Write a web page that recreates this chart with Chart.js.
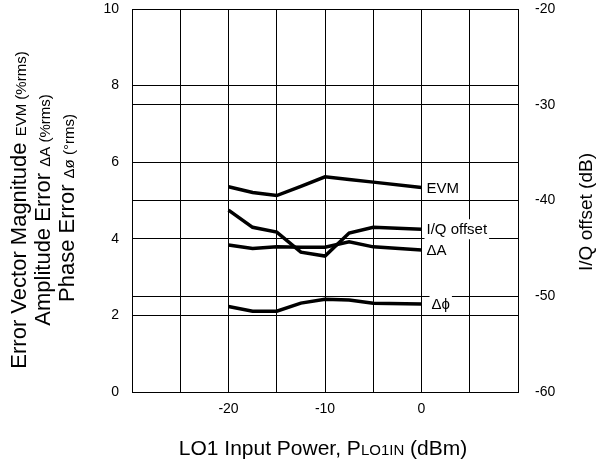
<!DOCTYPE html>
<html>
<head>
<meta charset="utf-8">
<script src="https://cdn.jsdelivr.net/npm/chart.js@4.4.0/dist/chart.umd.min.js"></script>
<style>
html, body { margin: 0; padding: 0; background: #fff; }
</style>
</head>
<body>
<canvas id="chartCanvas" width="600" height="465"></canvas>
<script>
// LO1 input power (dBm)
var loPower = [-20, -17.5, -15, -12.5, -10, -7.5, -5, 0];
// left axis (%rms / deg rms)
var evm = [5.36, 5.21, 5.13, 5.37, 5.62, 5.55, 5.48, 5.34];
var deltaA = [3.84, 3.75, 3.79, 3.78, 3.78, 3.92, 3.79, 3.71];
var deltaPhi = [2.23, 2.11, 2.11, 2.32, 2.42, 2.40, 2.32, 2.30];
// right axis (dB)
var iqOffset = [-41.0, -42.8, -43.3, -45.4, -45.8, -43.4, -42.8, -43.0];

var xLabels = [-20, -10, 0];
var font = "'Liberation Sans', Arial, sans-serif";

function pts(arr) {
    return loPower.map(function (x, i) { return { x: x, y: arr[i] }; });
}

// text with mixed sizes, centred at (cx, cy), rot = angle
function richText(ctx, parts, cx, cy, rot) {
    ctx.save();
    ctx.translate(cx, cy);
    ctx.rotate(rot);
    ctx.textBaseline = 'alphabetic';
    ctx.textAlign = 'left';
    var total = 0;
    parts.forEach(function (p) {
        ctx.font = p[1] + "px " + font;
        total += ctx.measureText(p[0]).width;
    });
    var x = -total / 2;
    parts.forEach(function (p) {
        ctx.font = p[1] + "px " + font;
        ctx.fillStyle = '#000';
        ctx.fillText(p[0], x, 0);
        x += ctx.measureText(p[0]).width;
    });
    ctx.restore();
}

var endLabels = {
    id: 'endLabels',
    afterDatasetsDraw: function (chart) {
        var ctx = chart.ctx;
        ctx.save();
        ctx.font = "15px " + font;
        ctx.textBaseline = 'middle';
        chart.data.datasets.forEach(function (ds, i) {
            var meta = chart.getDatasetMeta(i);
            var p = meta.data[meta.data.length - 1];
            var tx = p.x + ds.labelDx;
            var w = ctx.measureText(ds.label).width;
            ctx.fillStyle = '#fff';
            ctx.fillRect(tx - 2, p.y - 10, w + 4, 20);
            ctx.fillStyle = '#000';
            ctx.fillText(ds.label, tx, p.y + 1);
        });
        ctx.restore();
    }
};

var titles = {
    id: 'titles',
    afterDraw: function (chart) {
        var ctx = chart.ctx;
        var up = -Math.PI / 2;
        richText(ctx, [["Error Vector Magnitude ", 22], ["EVM (%rms)", 15]], 26, 210, up);
        richText(ctx, [["Amplitude Error ", 22], ["\u0394A (%rms)", 15]], 50, 210, up);
        richText(ctx, [["Phase Error ", 22], ["\u0394\u00f8 (\u00b0rms)", 15]], 74, 208, up);
        richText(ctx, [["I/Q offset (dB)", 19]], 592, 212, up);
        richText(ctx, [["LO1 Input Power, P", 21], ["LO1IN", 15], [" (dBm)", 21]], 323, 455, 0);
    }
};

var tickFont = { family: font, size: 14 };

new Chart(document.getElementById("chartCanvas"), {
    type: 'line',
    data: {
        datasets: [
            { label: 'EVM', data: pts(evm), yAxisID: 'y', labelDx: 5 },
            { label: 'I/Q offset', data: pts(iqOffset), yAxisID: 'y2', labelDx: 5 },
            { label: '\u0394A', data: pts(deltaA), yAxisID: 'y', labelDx: 5 },
            { label: '\u0394\u03d5', data: pts(deltaPhi), yAxisID: 'y', labelDx: 10 }
        ]
    },
    options: {
        responsive: false,
        animation: false,
        layout: { padding: { top: 9, left: 0, right: 0, bottom: 0 } },
        plugins: { legend: { display: false }, tooltip: { enabled: false } },
        elements: {
            point: { radius: 0 },
            line: { borderWidth: 3.5, borderColor: '#000', tension: 0, fill: false }
        },
        scales: {
            x: {
                type: 'linear', min: -30, max: 10,
                ticks: {
                    stepSize: 5, color: '#000', font: tickFont, padding: 9,
                    maxRotation: 0, autoSkip: false,
                    callback: function (v) { return xLabels.indexOf(v) >= 0 ? v : ''; }
                },
                grid: { color: '#000', lineWidth: 1, drawTicks: false },
                border: { color: '#000', width: 1 },
                afterFit: function (s) { s.height = 73; }
            },
            y: {
                position: 'left', min: 0, max: 10,
                ticks: { stepSize: 2, color: '#000', font: tickFont, padding: 0 },
                grid: { color: '#000', lineWidth: 1, drawTicks: true, tickLength: 13, tickColor: 'rgba(0,0,0,0)' },
                border: { color: '#000', width: 1 },
                afterFit: function (s) { s.width = 132; }
            },
            y2: {
                position: 'right', min: -60, max: -20,
                ticks: { stepSize: 10, color: '#000', font: tickFont, padding: 0 },
                grid: { color: '#000', lineWidth: 1, drawTicks: true, tickLength: 17, tickColor: 'rgba(0,0,0,0)' },
                border: { color: '#000', width: 1 },
                afterFit: function (s) { s.width = 82; }
            }
        }
    },
    plugins: [endLabels, titles]
});
</script>
</body>
</html>
